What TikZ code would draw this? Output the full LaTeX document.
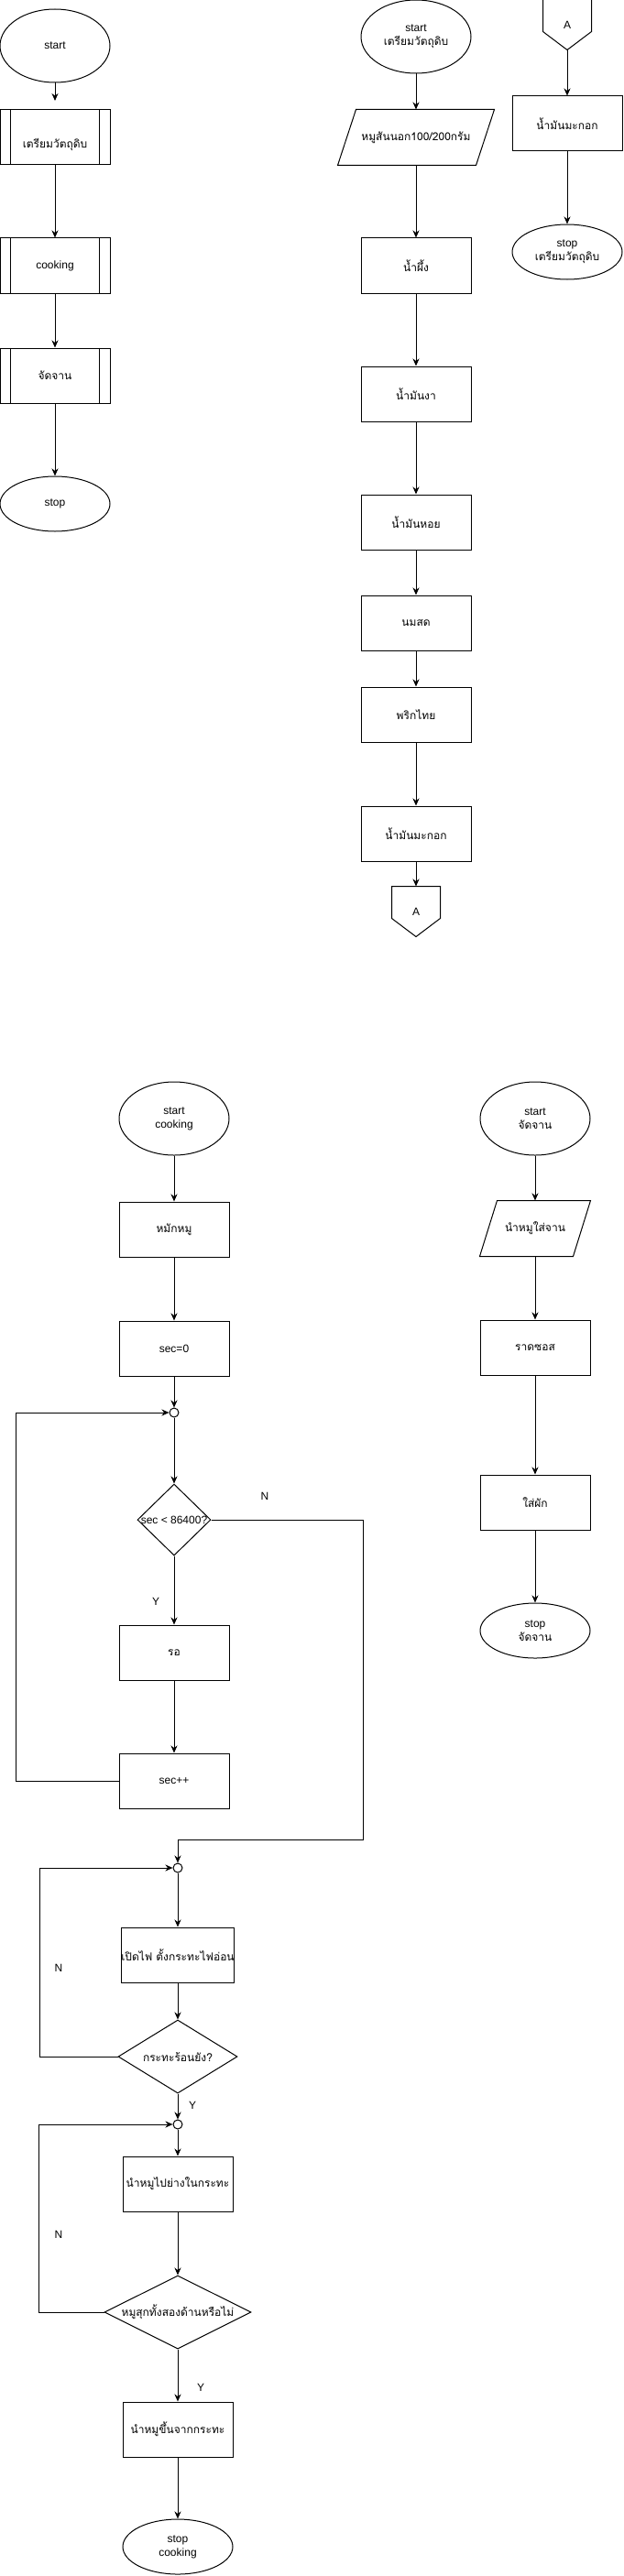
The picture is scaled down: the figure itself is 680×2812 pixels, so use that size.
\documentclass[tikz,border=0pt]{standalone}
\usepackage{fontspec}
\setmainfont{Liberation Sans}
\newfontfamily\thaifont[Script=Thai]{Loma}
\usetikzlibrary{shapes.geometric, arrows.meta}

\tikzset{
    every node/.style={font=\fontsize{12}{15}\selectfont, align=center},
    terminal/.style={draw, ellipse, minimum width=120pt, minimum height=#1, inner sep=0pt},
    terminal/.default=60pt,
    stepbox/.style={draw, rectangle, minimum width=120pt, minimum height=60pt, inner sep=0pt},
    decision/.style={draw, diamond, minimum width=#1, minimum height=80pt, inner sep=0pt},
    joint/.style={draw, circle, fill=white, minimum size=10pt, inner sep=0pt},
    iobox/.style={rectangle, minimum width=#1, minimum height=60pt, inner sep=0pt},
    offpage/.style={rectangle, minimum width=52pt, minimum height=54pt, inner sep=0pt},
    tag/.style={inner sep=0pt}
}

\begin{document}
\begin{tikzpicture}[x=1pt, y=-1pt, line width=1pt, >={Stealth[length=8pt, width=7pt, inset=2.5pt]}]
    \fill[white] (0,0) rectangle (680,2812);
    \useasboundingbox (0,0) rectangle (680,2812);

    % main
    \node[terminal=80pt] (start) at (60,50) {start};
    \coordinate (startend) at (60,110);
    \node[stepbox, label={[yshift=-8pt]center:{\thaifont เตรียมวัตถุดิบ}}] (prep) at (60,150) {};
    \node[stepbox] (cook) at (60,290) {cooking};
    \node[stepbox] (plate) at (60,410) {\thaifont จัดจาน};
    \node[terminal] (stop) at (60,550) {stop};

    \draw ([xshift=12pt]prep.north west) -- ([xshift=12pt]prep.south west);
    \draw ([xshift=-12pt]prep.north east) -- ([xshift=-12pt]prep.south east);
    \draw ([xshift=12pt]cook.north west) -- ([xshift=12pt]cook.south west);
    \draw ([xshift=-12pt]cook.north east) -- ([xshift=-12pt]cook.south east);
    \draw ([xshift=12pt]plate.north west) -- ([xshift=12pt]plate.south west);
    \draw ([xshift=-12pt]plate.north east) -- ([xshift=-12pt]plate.south east);

    \draw[->] (start) -- (startend);
    \draw[->] (prep) -- (cook);
    \draw[->] (cook) -- (plate);
    \draw[->] (plate) -- (stop);

    % prepare
    \node[terminal=80pt] (prepstart) at (454,40) {start\\{\thaifont เตรียมวัตถุดิบ}};
    \node[iobox=150pt] (pork) at (454,150) {\thaifont หมูสันนอก100/200กรัม};
    \draw ([xshift=10pt]pork.north west) -- ([xshift=10pt]pork.north east)
        -- ([xshift=-10pt]pork.south east) -- ([xshift=-10pt]pork.south west) -- cycle;
    \node[stepbox] (honey) at (454,290) {\thaifont น้ำผึ้ง};
    \node[stepbox] (sesame) at (454,430) {\thaifont น้ำมันงา};
    \node[stepbox] (oyster) at (454,570) {\thaifont น้ำมันหอย};
    \node[stepbox] (milk) at (454,680) {\thaifont นมสด};
    \node[stepbox] (pepper) at (454,780) {\thaifont พริกไทย};
    \node[stepbox] (olive) at (454,910) {\thaifont น้ำมันมะกอก};
    \node[offpage] (conA) at (454,995) {A};
    \draw (conA.north west) -- (conA.north east) -- ([yshift=20pt]conA.south east)
        -- (conA.south) -- ([yshift=20pt]conA.south west) -- cycle;

    \draw[->] (prepstart) -- (pork);
    \draw[->] (pork) -- (honey);
    \draw[->] (honey) -- (sesame);
    \draw[->] (sesame) -- (oyster);
    \draw[->] (oyster) -- (milk);
    \draw[->] (milk) -- (pepper);
    \draw[->] (pepper) -- (olive);
    \draw[->] (olive) -- (conA);

    \node[offpage] (conB) at (619,27) {A};
    \draw (conB.north west) -- (conB.north east) -- ([yshift=20pt]conB.south east)
        -- (conB.south) -- ([yshift=20pt]conB.south west) -- cycle;
    \node[stepbox] (olive2) at (619,135) {\thaifont น้ำมันมะกอก};
    \node[terminal] (prepstop) at (619,275) {stop\\{\thaifont เตรียมวัตถุดิบ}};

    \draw[->] (conB.south) -- (olive2);
    \draw[->] (olive2) -- (prepstop);

    % cooking
    \node[terminal=80pt] (cookstart) at (190,1221) {start\\cooking};
    \node[stepbox] (marinate) at (190,1342) {\thaifont หมักหมู};
    \node[stepbox] (secinit) at (190,1472) {sec=0};
    \node[joint] (jloop) at (190,1542) {};
    \node[decision=80pt, minimum height=78pt, label=center:{sec < 86400?}] (check) at (190,1659) {};
    \node[stepbox] (wait) at (190,1804) {\thaifont รอ};
    \node[stepbox] (secinc) at (190,1944) {sec++};
    \node[joint] (jheat) at (194,2039) {};
    \node[stepbox] (heat) at (194,2134) {\thaifont เปิดไฟ ตั้งกระทะไฟอ่อน};
    \node[decision=130pt, label=center:{\thaifont กระทะร้อนยัง?}] (hot) at (194,2245) {};
    \node[joint] (jgrill) at (194,2319) {};
    \node[stepbox] (grill) at (194,2384) {\thaifont นำหมูไปย่างในกระทะ};
    \node[decision=160pt, label=center:{\thaifont หมูสุกทั้งสองด้านหรือไม่}] (done) at (194,2524) {};
    \node[stepbox] (remove) at (194,2652) {\thaifont นำหมูขึ้นจากกระทะ};
    \node[terminal] (cookstop) at (194,2780) {stop\\cooking};

    \node[tag] (n1) at (289,1633) {N};
    \node[tag] (y1) at (170,1748) {Y};
    \node[tag] (n2) at (64,2148) {N};
    \node[tag] (y2) at (210,2298) {Y};
    \node[tag] (n3) at (64,2439) {N};
    \node[tag] (y3) at (219,2606) {Y};

    \draw[->] (cookstart) -- (marinate);
    \draw[->] (marinate) -- (secinit);
    \draw[->] (secinit) -- (jloop);
    \draw[->] (jloop) -- (check);
    \draw[->] (check) -- (wait);
    \draw[->] (wait) -- (secinc);
    \draw[->] (secinc.west) -- ++(-112,0) |- (jloop.west);
    \draw[->] (check.east) -- ++(166,0) -- ++(0,349) -| (jheat.north);
    \draw[->] (jheat) -- (heat);
    \draw[->] (heat) -- (hot);
    \draw[->] (hot.west) -- ++(-85,0) |- (jheat.west);
    \draw[->] (hot) -- (jgrill);
    \draw[->] (jgrill) -- (grill);
    \draw[->] (grill) -- (done);
    \draw[->] (done.west) -- ++(-71,0) |- (jgrill.west);
    \draw[->] (done) -- (remove);
    \draw[->] (remove) -- (cookstop);

    % plating
    \node[terminal=80pt] (platestart) at (584,1221) {start\\{\thaifont จัดจาน}};
    \node[iobox=101pt] (serve) at (584,1341) {\thaifont นำหมูใส่จาน};
    \draw ([xshift=9.5pt]serve.north west) -- ([xshift=9.5pt]serve.north east)
        -- ([xshift=-9.5pt]serve.south east) -- ([xshift=-9.5pt]serve.south west) -- cycle;
    \node[stepbox] (sauce) at (584,1471) {\thaifont ราดซอส};
    \node[stepbox] (veg) at (584,1640) {\thaifont ใส่ผัก};
    \node[terminal] (platestop) at (584,1780) {stop\\{\thaifont จัดจาน}};

    \draw[->] (platestart) -- (serve);
    \draw[->] (serve) -- (sauce);
    \draw[->] (sauce) -- (veg);
    \draw[->] (veg) -- (platestop);
\end{tikzpicture}
\end{document}
